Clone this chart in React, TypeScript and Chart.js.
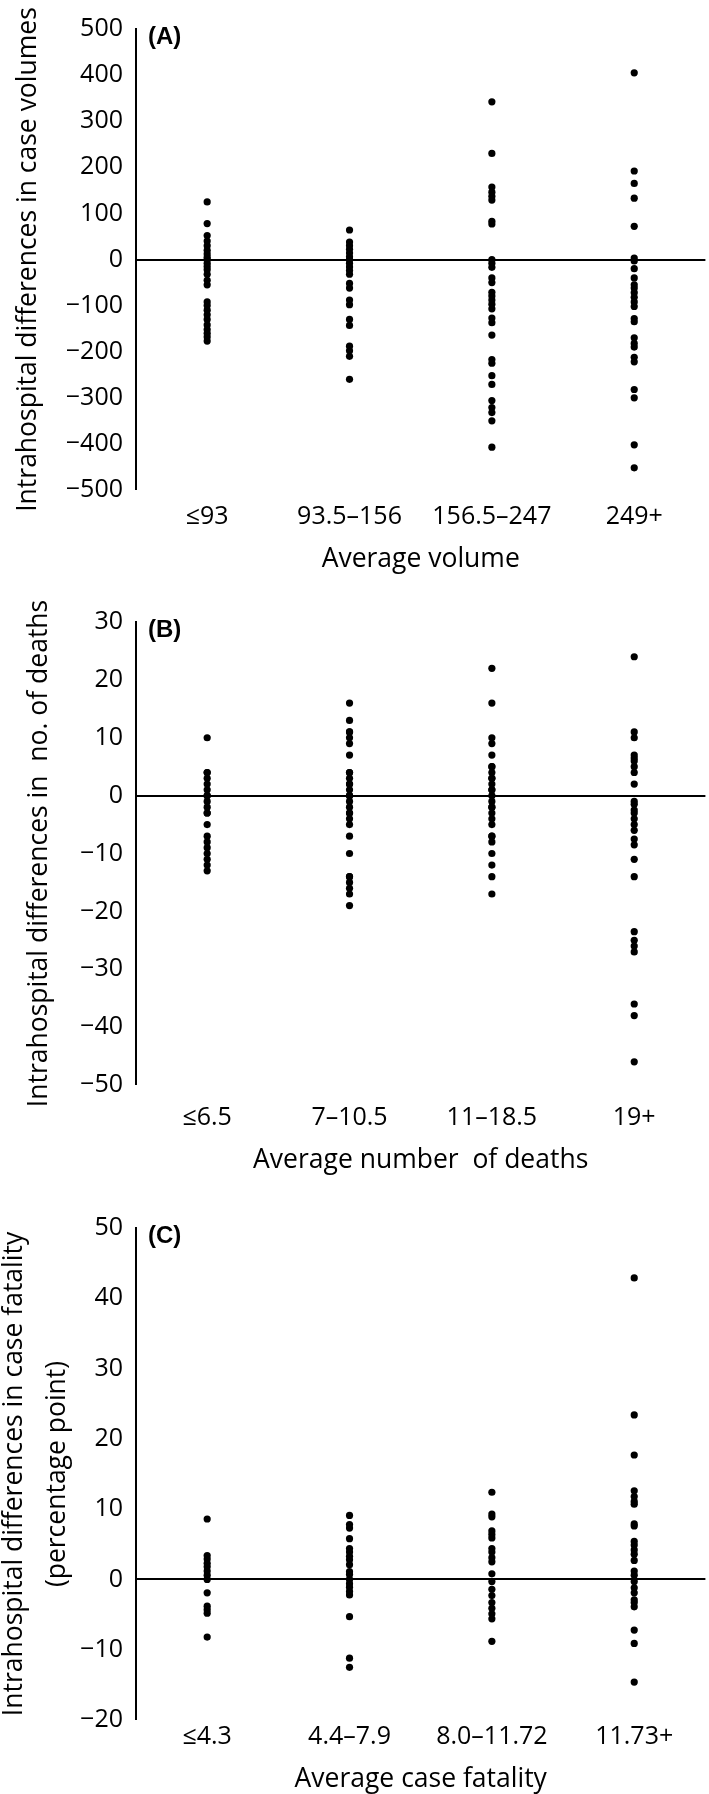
import React, { useEffect, useRef } from "react";
import { Chart, registerables } from "chart.js";

Chart.register(...registerables);

// ---------- Panel A: case volumes ----------
const volumeCategories = ["≤93", "93.5–156", "156.5–247", "249+"];
const volumeGroup1 = [125, 78, 52, 40, 30, 20, 12, 5, 0, -8, -15, -22, -32, -45, -55, -92, -100, -110, -120, -130, -142, -152, -160, -168, -177];
const volumeGroup2 = [64, 38, 30, 22, 14, 6, 0, -8, -16, -24, -32, -52, -62, -88, -98, -130, -143, -188, -198, -210, -260];
const volumeGroup3 = [342, 230, 157, 146, 137, 129, 83, 77, 0, -8, -17, -40, -50, -71, -79, -88, -97, -107, -127, -137, -164, -217, -225, -252, -271, -306, -321, -332, -350, -407];
const volumeGroup4 = [405, 192, 165, 133, 72, 3, -3, -20, -40, -55, -62, -72, -82, -92, -102, -128, -135, -170, -182, -190, -212, -222, -282, -300, -402, -452];

// ---------- Panel B: number of deaths ----------
const deathCategories = ["≤6.5", "7–10.5", "11–18.5", "19+"];
const deathGroup1 = [10, 4, 4, 3, 2, 1, 0, 0, -1, -2, -3, -3, -5, -7, -8, -9, -10, -11, -12, -13];
const deathGroup2 = [16, 13, 11, 11, 10, 9, 7, 4, 4, 3, 2, 2, 1, 0, 0, -1, -2, -3, -3, -4, -5, -7, -10, -14, -14, -15, -16, -17, -19];
const deathGroup3 = [22, 16, 10, 9, 7, 5, 5, 4, 3, 3, 2, 1, 1, 0, -1, -2, -2, -3, -4, -5, -7, -7, -8, -10, -12, -14, -17];
const deathGroup4 = [24, 11, 10, 7, 6.5, 6, 5, 4, 2, -1, -1.5, -2.5, -3, -4, -5, -6, -7.5, -8.5, -11, -14, -23.5, -25, -26, -27, -36, -38, -46];

// ---------- Panel C: case fatality ----------
const fatalityCategories = ["≤4.3", "4.4–7.9", "8.0–11.72", "11.73+"];
const fatalityGroup1 = [8.6, 3.4, 2.9, 2.3, 1.8, 1.2, 0.6, 0, -1.9, -3.8, -4.3, -4.8, -8.2];
const fatalityGroup2 = [9.1, 7.8, 7.3, 5.8, 4.4, 3.9, 3.3, 2.8, 2.1, 1.1, 0.7, 0, -0.6, -1.1, -1.7, -2.2, -5.3, -11.2, -12.5];
const fatalityGroup3 = [12.4, 9.3, 8.9, 6.9, 6.4, 5.9, 4.4, 3.9, 3.1, 2.5, 0.8, -0.3, -1.4, -2.3, -3.3, -4.1, -4.9, -5.6, -8.8];
const fatalityGroup4 = [42.9, 23.4, 17.7, 12.6, 11.8, 11.1, 10.7, 7.9, 7.6, 5.4, 4.9, 4.2, 3.6, 2.7, 1.2, 0.6, -0.3, -1.2, -1.9, -2.9, -3.3, -3.9, -7.2, -9.1, -14.6];

// axis ranges
const volumeAxis = { min: -500, max: 500, step: 100 };
const deathAxis = { min: -50, max: 30, step: 10 };
const fatalityAxis = { min: -20, max: 50, step: 10 };

const FONT = "'Open Sans', sans-serif";
const INK = "#000";
const TICK_SIZE = 25;
const TITLE_SIZE = 26.5;

type PanelSpec = {
  label: string;
  categories: string[];
  groups: number[][];
  axis: { min: number; max: number; step: number };
  yTitle: string | string[];
  xTitle: string;
  top: number;
  height: number;
  padTop: number;
  xScaleHeight: number;
  xTickPad: number;
  xTitlePadBottom: number;
  yTitlePad: number;
  yTitleLineHeight: number;
};

const panels: PanelSpec[] = [
  {
    label: "(A)",
    categories: volumeCategories,
    groups: [volumeGroup1, volumeGroup2, volumeGroup3, volumeGroup4],
    axis: volumeAxis,
    yTitle: "Intrahospital differences in case volumes",
    xTitle: "Average volume",
    top: 0,
    height: 580,
    padTop: 29,
    xScaleHeight: 90,
    xTickPad: 12,
    xTitlePadBottom: 4.6,
    yTitlePad: 12.6,
    yTitleLineHeight: 1.2,
  },
  {
    label: "(B)",
    categories: deathCategories,
    groups: [deathGroup1, deathGroup2, deathGroup3, deathGroup4],
    axis: deathAxis,
    yTitle: "Intrahospital differences in  no. of deaths",
    xTitle: "Average number  of deaths",
    top: 580,
    height: 600,
    padTop: 42,
    xScaleHeight: 95,
    xTickPad: 18,
    xTitlePadBottom: 4,
    yTitlePad: 24,
    yTitleLineHeight: 1.2,
  },
  {
    label: "(C)",
    categories: fatalityCategories,
    groups: [fatalityGroup1, fatalityGroup2, fatalityGroup3, fatalityGroup4],
    axis: fatalityAxis,
    yTitle: ["Intrahospital differences in case fatality", "(percentage point)"],
    xTitle: "Average case fatality",
    top: 1180,
    height: 614,
    padTop: 48,
    xScaleHeight: 74,
    xTickPad: 2,
    xTitlePadBottom: -1,
    yTitlePad: -7.5,
    yTitleLineHeight: 43 / TITLE_SIZE,
  },
];

function Panel({ spec }: { spec: PanelSpec }) {
  const ref = useRef<HTMLCanvasElement | null>(null);
  useEffect(() => {
    const canvas = ref.current;
    if (!canvas) return;
    const datasets = spec.groups.map((g, i) => ({
      label: spec.categories[i],
      data: g.map((v) => ({ x: i + 1, y: v })),
      pointRadius: 3.6,
      pointHoverRadius: 3.6,
      pointBackgroundColor: INK,
      pointBorderWidth: 0,
      showLine: false,
    }));
    const labelPlugin = {
      id: "panelLabel",
      afterDraw(chart: any) {
        const { ctx, chartArea } = chart;
        ctx.save();
        ctx.font = "bold 24px 'Liberation Sans', Arial, sans-serif";
        ctx.fillStyle = INK;
        ctx.textAlign = "left";
        ctx.textBaseline = "middle";
        ctx.fillText(spec.label, chartArea.left + 12, chartArea.top + 8);
        ctx.restore();
      },
    };
    const chart = new Chart(canvas, {
      type: "scatter",
      data: { datasets },
      plugins: [labelPlugin],
      options: {
        responsive: false,
        animation: false,
        events: [],
        layout: { padding: { top: spec.padTop, left: 0, right: 0, bottom: 0 } },
        plugins: { legend: { display: false }, tooltip: { enabled: false } },
        scales: {
          x: {
            type: "linear",
            min: 0.5,
            max: 4.5,
            afterBuildTicks: (scale: any) => {
              scale.ticks = spec.categories.map((_, i) => ({ value: i + 1 }));
            },
            afterFit: (scale: any) => {
              scale.height = spec.xScaleHeight;
            },
            grid: { display: false, drawTicks: false },
            border: { display: false },
            ticks: {
              padding: spec.xTickPad,
              color: INK,
              font: { family: FONT, size: TICK_SIZE },
              maxRotation: 0,
              autoSkip: false,
              callback: (v: any) => spec.categories[Number(v) - 1] ?? "",
            },
            title: {
              display: true,
              text: spec.xTitle,
              color: INK,
              font: { family: FONT, size: TITLE_SIZE, lineHeight: 1.2 },
              padding: { top: 0, bottom: spec.xTitlePadBottom },
            },
          },
          y: {
            type: "linear",
            min: spec.axis.min,
            max: spec.axis.max,
            afterFit: (scale: any) => {
              scale.width = 136;
            },
            ticks: {
              stepSize: spec.axis.step,
              padding: 13,
              color: INK,
              font: { family: FONT, size: TICK_SIZE },
              callback: (v: any) => String(v).replace("-", "\u2212"),
            },
            grid: {
              drawTicks: false,
              color: (c: any) => (c.tick && c.tick.value === 0 ? INK : "rgba(0,0,0,0)"),
              lineWidth: (c: any) => (c.tick && c.tick.value === 0 ? 2 : 0),
            },
            border: { display: true, color: INK, width: 2 },
            title: {
              display: true,
              text: spec.yTitle,
              color: INK,
              font: { family: FONT, size: TITLE_SIZE, lineHeight: spec.yTitleLineHeight },
              padding: { top: spec.yTitlePad, bottom: 0 },
            },
          },
        },
      },
    } as any);
    return () => chart.destroy();
  }, [spec]);
  return (
    <canvas
      ref={ref}
      width={709}
      height={spec.height}
      style={{ position: "absolute", left: 0, top: spec.top, width: 709, height: spec.height }}
    />
  );
}

export default function App() {
  return (
    <div style={{ position: "absolute", left: 0, top: 0, width: 709, height: 1794, background: "#fff", overflow: "hidden" }}>
      {panels.map((p) => (
        <Panel key={p.label} spec={p} />
      ))}
    </div>
  );
}
